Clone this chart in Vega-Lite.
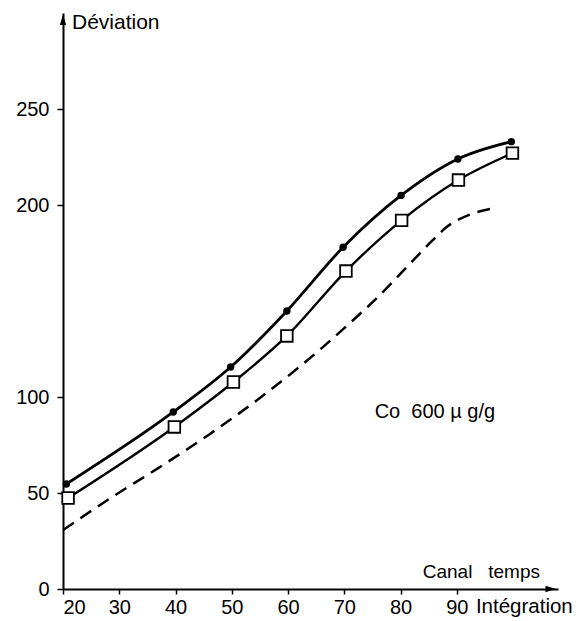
{
  "$schema": "https://vega.github.io/schema/vega-lite/v6.json",
  "width": 495,
  "height": 576,
  "autosize": {"type": "none"},
  "padding": {"left": 63, "top": 13, "right": 18, "bottom": 32},
  "background": "white",
  "config": {
    "view": {"stroke": null},
    "font": "Liberation Sans",
    "axis": {"grid": false, "domainColor": "black", "domainWidth": 2, "tickColor": "black", "tickWidth": 1.5, "labelColor": "black", "labelFontSize": 20, "labelFont": "Liberation Sans"}
  },
  "datasets": {
    "circles": [
      {"canal": 20.6, "deviation": 54.7},
      {"canal": 39.6, "deviation": 92.2},
      {"canal": 49.8, "deviation": 115.6},
      {"canal": 59.8, "deviation": 144.8},
      {"canal": 69.8, "deviation": 178},
      {"canal": 80.1, "deviation": 205},
      {"canal": 90.2, "deviation": 224},
      {"canal": 99.7, "deviation": 233}
    ],
    "squares": [
      {"canal": 20.9, "deviation": 47.4},
      {"canal": 39.8, "deviation": 84.4},
      {"canal": 50.3, "deviation": 107.8},
      {"canal": 59.8, "deviation": 131.8},
      {"canal": 70.3, "deviation": 165.6},
      {"canal": 80.2, "deviation": 192},
      {"canal": 90.3, "deviation": 213},
      {"canal": 99.9, "deviation": 227}
    ],
    "dashed": [
      {"canal": 20, "deviation": 30.7},
      {"canal": 28, "deviation": 46.5},
      {"canal": 37.2, "deviation": 63.5},
      {"canal": 46, "deviation": 80.5},
      {"canal": 55, "deviation": 99.5},
      {"canal": 62, "deviation": 115.6},
      {"canal": 66.2, "deviation": 126},
      {"canal": 71, "deviation": 138.5},
      {"canal": 76.3, "deviation": 153},
      {"canal": 82.2, "deviation": 171},
      {"canal": 85.5, "deviation": 181},
      {"canal": 88.2, "deviation": 188.5},
      {"canal": 92.3, "deviation": 195},
      {"canal": 96.7, "deviation": 198.4}
    ]
  },
  "layer": [
    {
      "data": {"name": "dashed"},
      "mark": {"type": "line", "color": "black", "strokeWidth": 2.5, "strokeDash": [13, 8], "interpolate": "monotone"},
      "encoding": {
        "x": {"field": "canal", "type": "quantitative", "scale": {"domain": [20, 108], "nice": false, "zero": false},
              "axis": {"values": [20, 30, 40, 50, 60, 70, 80, 90], "tickSize": 5, "labelPadding": 3, "title": null}},
        "y": {"field": "deviation", "type": "quantitative", "scale": {"domain": [0, 300], "nice": false},
              "axis": {"values": [0, 50, 100, 200, 250], "tickSize": 6, "labelPadding": 8, "title": null}}
      }
    },
    {
      "data": {"name": "circles"},
      "mark": {"type": "line", "color": "black", "strokeWidth": 2.8, "interpolate": "monotone"},
      "encoding": {
        "x": {"field": "canal", "type": "quantitative", "scale": {"domain": [20, 108], "nice": false, "zero": false}},
        "y": {"field": "deviation", "type": "quantitative", "scale": {"domain": [0, 300], "nice": false}}
      }
    },
    {
      "data": {"name": "circles"},
      "mark": {"type": "point", "shape": "circle", "filled": true, "color": "black", "size": 55, "opacity": 1},
      "encoding": {
        "x": {"field": "canal", "type": "quantitative", "scale": {"domain": [20, 108], "nice": false, "zero": false}},
        "y": {"field": "deviation", "type": "quantitative", "scale": {"domain": [0, 300], "nice": false}}
      }
    },
    {
      "data": {"name": "squares"},
      "mark": {"type": "line", "color": "black", "strokeWidth": 2.4, "interpolate": "monotone"},
      "encoding": {
        "x": {"field": "canal", "type": "quantitative", "scale": {"domain": [20, 108], "nice": false, "zero": false}},
        "y": {"field": "deviation", "type": "quantitative", "scale": {"domain": [0, 300], "nice": false}}
      }
    },
    {
      "data": {"name": "squares"},
      "mark": {"type": "point", "shape": "square", "filled": true, "fill": "white", "stroke": "black", "strokeWidth": 1.8, "size": 135, "opacity": 1},
      "encoding": {
        "x": {"field": "canal", "type": "quantitative", "scale": {"domain": [20, 108], "nice": false, "zero": false}},
        "y": {"field": "deviation", "type": "quantitative", "scale": {"domain": [0, 300], "nice": false}}
      }
    },
    {
      "data": {"values": [{}]},
      "mark": {"type": "point", "shape": "M-0.6,1L0,-1L0.6,1Z", "filled": true, "color": "black", "size": 110, "opacity": 1},
      "encoding": {
        "x": {"datum": 20, "type": "quantitative", "scale": {"domain": [20, 108], "nice": false, "zero": false}},
        "y": {"datum": 296.5, "type": "quantitative", "scale": {"domain": [0, 300], "nice": false}}
      }
    },
    {
      "data": {"values": [{}]},
      "mark": {"type": "point", "shape": "M-1,-0.6L1,0L-1,0.6Z", "filled": true, "color": "black", "size": 110, "opacity": 1},
      "encoding": {
        "x": {"datum": 106.7, "type": "quantitative", "scale": {"domain": [20, 108], "nice": false, "zero": false}},
        "y": {"datum": 0, "type": "quantitative", "scale": {"domain": [0, 300], "nice": false}}
      }
    },
    {
      "data": {"values": [{}]},
      "mark": {"type": "text", "text": "Déviation", "align": "left", "baseline": "middle", "fontSize": 21, "color": "black"},
      "encoding": {
        "x": {"datum": 21.6, "type": "quantitative", "scale": {"domain": [20, 108], "nice": false, "zero": false}},
        "y": {"datum": 295, "type": "quantitative", "scale": {"domain": [0, 300], "nice": false}}
      }
    },
    {
      "data": {"values": [{}]},
      "mark": {"type": "text", "text": "Canal\u00a0\u00a0\u00a0temps", "align": "right", "baseline": "middle", "fontSize": 19, "color": "black"},
      "encoding": {
        "x": {"datum": 104.8, "type": "quantitative", "scale": {"domain": [20, 108], "nice": false, "zero": false}},
        "y": {"datum": 9, "type": "quantitative", "scale": {"domain": [0, 300], "nice": false}}
      }
    },
    {
      "data": {"values": [{}]},
      "mark": {"type": "text", "text": "Intégration", "align": "left", "baseline": "middle", "fontSize": 20.5, "color": "black"},
      "encoding": {
        "x": {"datum": 93.4, "type": "quantitative", "scale": {"domain": [20, 108], "nice": false, "zero": false}},
        "y": {"datum": -9.5, "type": "quantitative", "scale": {"domain": [0, 300], "nice": false}}
      }
    },
    {
      "data": {"values": [{}]},
      "mark": {"type": "text", "text": "Co\u00a0\u00a0600\u00a0µ\u00a0g/g", "align": "left", "baseline": "middle", "fontSize": 20, "color": "black"},
      "encoding": {
        "x": {"datum": 75.4, "type": "quantitative", "scale": {"domain": [20, 108], "nice": false, "zero": false}},
        "y": {"datum": 92, "type": "quantitative", "scale": {"domain": [0, 300], "nice": false}}
      }
    }
  ]
}
